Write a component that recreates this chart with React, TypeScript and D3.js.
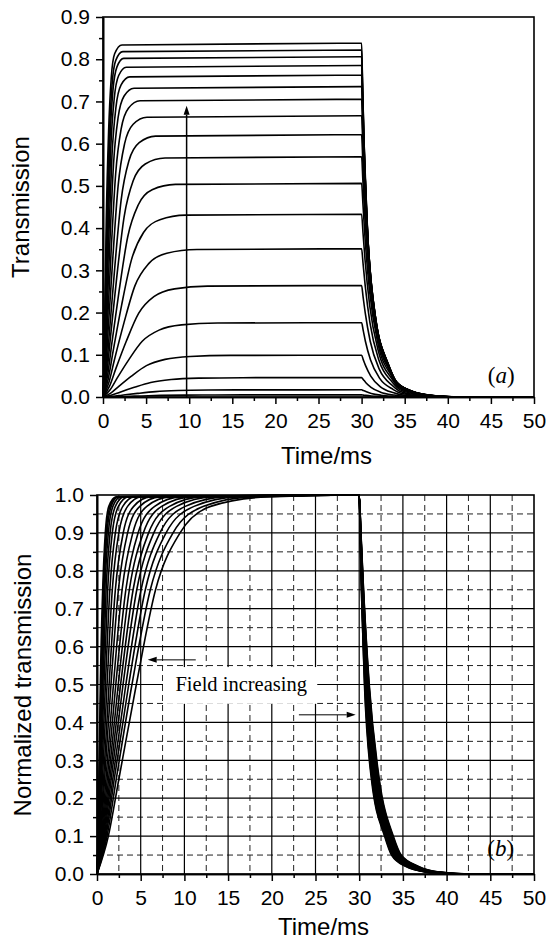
import React, { useEffect, useRef } from 'react';
import * as d3 from 'd3';

// plateau transmission of each curve in (a), highest field first
const plateaus = [0.838, 0.822, 0.806, 0.785, 0.762, 0.735, 0.705, 0.666, 0.621, 0.569, 0.506, 0.433, 0.351, 0.264, 0.176, 0.099, 0.046, 0.017, 0.005];

// normalized levels on the rising edge and the times (ms) each curve reaches them
const riseLevels = [0.1, 0.25, 0.5, 0.75, 0.9, 0.97, 0.995];
const riseTimes = [
  [0.12, 0.22, 0.38, 0.65, 0.95, 1.35, 2.2],
  [0.13, 0.25, 0.45, 0.72, 1.05, 1.48, 2.3],
  [0.15, 0.28, 0.51, 0.8, 1.15, 1.62, 2.4],
  [0.17, 0.32, 0.59, 0.9, 1.3, 1.82, 2.7],
  [0.19, 0.37, 0.68, 1.04, 1.5, 2.1, 3.1],
  [0.23, 0.44, 0.8, 1.22, 1.75, 2.45, 3.6],
  [0.27, 0.52, 0.96, 1.47, 2.1, 2.95, 4.3],
  [0.32, 0.62, 1.15, 1.75, 2.5, 3.5, 5.1],
  [0.39, 0.75, 1.38, 2.1, 3.0, 4.2, 6.1],
  [0.45, 0.87, 1.6, 2.45, 3.5, 4.9, 7.2],
  [0.53, 1.02, 1.88, 2.87, 4.1, 5.7, 8.4],
  [0.61, 1.17, 2.15, 3.3, 4.7, 6.6, 9.6],
  [0.69, 1.32, 2.43, 3.7, 5.3, 7.4, 10.9],
  [0.77, 1.47, 2.7, 4.13, 5.9, 8.3, 12.1],
  [0.85, 1.62, 2.98, 4.55, 6.5, 9.1, 13.3],
  [0.94, 1.8, 3.3, 5.04, 7.2, 10.1, 14.8],
  [1.03, 1.97, 3.63, 5.53, 7.9, 11.1, 16.2],
  [1.15, 2.2, 4.0, 6.1, 8.7, 12.2, 17.8],
  [1.3, 2.5, 4.5, 6.7, 9.5, 13.0, 19.5],
];

// field switched off at 30 ms: normalized levels on the falling edge and their times
const decayLevels = [0.9, 0.75, 0.5, 0.25, 0.1, 0.05, 0.02, 0.005, 0];
const decayTimes = [
  [30.1, 30.25, 30.6, 31.4, 32.9, 33.7, 35.3, 37.6, 40.5],
  [30.11, 30.26, 30.63, 31.45, 32.96, 33.76, 35.38, 37.69, 40.6],
  [30.11, 30.28, 30.66, 31.5, 33.01, 33.82, 35.47, 37.78, 40.8],
  [30.12, 30.29, 30.69, 31.55, 33.07, 33.88, 35.55, 37.87, 40.9],
  [30.12, 30.31, 30.72, 31.6, 33.12, 33.94, 35.63, 37.96, 41.1],
  [30.13, 30.32, 30.75, 31.65, 33.18, 34.01, 35.72, 38.04, 41.2],
  [30.13, 30.33, 30.78, 31.7, 33.23, 34.07, 35.8, 38.13, 41.3],
  [30.14, 30.35, 30.81, 31.75, 33.29, 34.13, 35.88, 38.22, 41.5],
  [30.14, 30.36, 30.84, 31.8, 33.34, 34.19, 35.97, 38.31, 41.6],
  [30.15, 30.38, 30.88, 31.85, 33.4, 34.25, 36.05, 38.4, 41.8],
  [30.16, 30.39, 30.91, 31.9, 33.46, 34.31, 36.13, 38.49, 41.9],
  [30.16, 30.4, 30.94, 31.95, 33.51, 34.37, 36.22, 38.58, 42.0],
  [30.17, 30.42, 30.97, 32.0, 33.57, 34.43, 36.3, 38.67, 42.2],
  [30.17, 30.43, 31.0, 32.05, 33.62, 34.49, 36.38, 38.76, 42.3],
  [30.18, 30.44, 31.03, 32.1, 33.68, 34.56, 36.47, 38.84, 42.4],
  [30.18, 30.46, 31.06, 32.15, 33.73, 34.62, 36.55, 38.93, 42.6],
  [30.19, 30.47, 31.09, 32.2, 33.79, 34.68, 36.63, 39.02, 42.7],
  [30.19, 30.49, 31.12, 32.25, 33.84, 34.74, 36.72, 39.11, 42.9],
  [30.2, 30.5, 31.15, 32.3, 33.9, 34.8, 36.8, 39.2, 43.0],
];

const xTicks = [0, 5, 10, 15, 20, 25, 30, 35, 40, 45, 50];
const xMinor = [2.5, 7.5, 12.5, 17.5, 22.5, 27.5, 32.5, 37.5, 42.5, 47.5];
const yTicksA = [0, 0.1, 0.2, 0.3, 0.4, 0.5, 0.6, 0.7, 0.8, 0.9];
const yMinorA = [0.05, 0.15, 0.25, 0.35, 0.45, 0.55, 0.65, 0.75, 0.85];
const yTicksB = [0, 0.1, 0.2, 0.3, 0.4, 0.5, 0.6, 0.7, 0.8, 0.9, 1.0];
const yMinorB = [0.05, 0.15, 0.25, 0.35, 0.45, 0.55, 0.65, 0.75, 0.85, 0.95];

const SANS = "'Liberation Sans', Arial, sans-serif";
const SERIF = "'Liberation Serif', 'Times New Roman', serif";

const normalized = (i: number): [number, number][] => {
  const pts: [number, number][] = [[0, 0]];
  riseTimes[i].forEach((t, k) => pts.push([t, riseLevels[k]]));
  pts.push([30, 1]);
  decayTimes[i].forEach((t, k) => pts.push([t, decayLevels[k]]));
  pts.push([50, 0]);
  return pts;
};

type Panel = {
  left: number; right: number; top: number; bottom: number;
  yMax: number; yTicks: number[]; yMinor: number[];
  grid: boolean; yTitle: string; titleY: number; yTitleX: number; xTitleY: number;
};

function drawPanel(svg: any, p: Panel, curves: [number, number][][]) {
  const x = d3.scaleLinear().domain([0, 50]).range([p.left, p.right]);
  const y = d3.scaleLinear().domain([0, p.yMax]).range([p.bottom, p.top]);
  const g = svg.append('g');

  if (p.grid) {
    const grid = g.append('g');
    grid.selectAll('line.vmin').data(xMinor).enter().append('line')
      .attr('x1', (d: number) => x(d)).attr('x2', (d: number) => x(d)).attr('y1', p.top).attr('y2', p.bottom)
      .attr('stroke', '#222').attr('stroke-width', 1).attr('stroke-dasharray', '6,4');
    grid.selectAll('line.hmin').data(p.yMinor).enter().append('line')
      .attr('y1', (d: number) => y(d)).attr('y2', (d: number) => y(d)).attr('x1', p.left).attr('x2', p.right)
      .attr('stroke', '#222').attr('stroke-width', 1).attr('stroke-dasharray', '6,4');
    grid.selectAll('line.vmaj').data(xTicks.slice(1, -1)).enter().append('line')
      .attr('x1', (d: number) => x(d)).attr('x2', (d: number) => x(d)).attr('y1', p.top).attr('y2', p.bottom)
      .attr('stroke', '#000').attr('stroke-width', 1.2);
    grid.selectAll('line.hmaj').data(p.yTicks.slice(1, -1)).enter().append('line')
      .attr('y1', (d: number) => y(d)).attr('y2', (d: number) => y(d)).attr('x1', p.left).attr('x2', p.right)
      .attr('stroke', '#000').attr('stroke-width', 1.2);
  }
  // layer for things that sit on the grid but under the curves
  const under = g.append('g');

  const line = d3.line<[number, number]>()
    .x((d) => x(d[0]))
    .y((d) => y(d[1]))
    .curve(d3.curveMonotoneX);

  g.append('g').selectAll('path').data(curves).enter().append('path')
    .attr('d', (d: [number, number][]) => line(d))
    .attr('fill', 'none').attr('stroke', '#000').attr('stroke-width', 1.6);

  // frame
  g.append('rect')
    .attr('x', p.left).attr('y', p.top)
    .attr('width', p.right - p.left).attr('height', p.bottom - p.top)
    .attr('fill', 'none').attr('stroke', '#000').attr('stroke-width', 1.6);

  // axes
  const xa = g.append('g').attr('transform', `translate(0,${p.bottom})`)
    .call(d3.axisBottom(x).tickValues(xTicks).tickSize(7).tickSizeOuter(0).tickPadding(9).tickFormat(d3.format('d')));
  const xm = g.append('g').attr('transform', `translate(0,${p.bottom})`)
    .call(d3.axisBottom(x).tickValues(xMinor).tickSize(4).tickSizeOuter(0).tickFormat(() => ''));
  const ya = g.append('g').attr('transform', `translate(${p.left},0)`)
    .call(d3.axisLeft(y).tickValues(p.yTicks).tickSize(7).tickSizeOuter(0).tickPadding(6).tickFormat(d3.format('.1f')));
  const ym = g.append('g').attr('transform', `translate(${p.left},0)`)
    .call(d3.axisLeft(y).tickValues(p.yMinor).tickSize(4).tickSizeOuter(0).tickFormat(() => ''));
  [xa, xm, ya, ym].forEach((a: any) => {
    a.select('.domain').attr('stroke-width', 1.6);
    a.selectAll('.tick line').attr('stroke-width', 1.5);
    a.selectAll('text').attr('font-family', SANS).attr('font-size', 21).attr('fill', '#000');
  });

  g.append('text')
    .attr('x', (p.left + p.right) / 2 + 8).attr('y', p.xTitleY)
    .attr('text-anchor', 'middle').attr('font-family', SANS).attr('font-size', 24)
    .text('Time/ms');
  g.append('text')
    .attr('transform', `translate(${p.yTitleX},${p.titleY}) rotate(-90)`)
    .attr('text-anchor', 'middle').attr('font-family', SANS).attr('font-size', 24)
    .text(p.yTitle);

  return { x, y, g, under };
}

function arrow(g: any, x1: number, y1: number, x2: number, y2: number, w: number) {
  const ang = Math.atan2(y2 - y1, x2 - x1);
  const len = 9, half = 3;
  const bx = x2 - len * Math.cos(ang), by = y2 - len * Math.sin(ang);
  g.append('line').attr('x1', x1).attr('y1', y1).attr('x2', bx).attr('y2', by)
    .attr('stroke', '#000').attr('stroke-width', w);
  const px = -Math.sin(ang) * half, py = Math.cos(ang) * half;
  g.append('path')
    .attr('d', `M${x2},${y2}L${bx + px},${by + py}L${bx - px},${by - py}Z`)
    .attr('fill', '#000');
}

function panelLabel(g: any, x: number, y: number, letter: string) {
  const t = g.append('text')
    .attr('x', x).attr('y', y).attr('dy', '0.35em')
    .attr('text-anchor', 'middle').attr('font-family', SERIF).attr('font-size', 23);
  t.append('tspan').text('(');
  t.append('tspan').attr('font-style', 'italic').text(letter);
  t.append('tspan').text(')');
}

export default function App() {
  const ref = useRef<SVGSVGElement>(null);

  useEffect(() => {
    if (!ref.current) return;
    const svg = d3.select(ref.current);
    svg.selectAll('*').remove();

    // (a) absolute transmission
    const curvesA = plateaus.map((h, i) => normalized(i).map(([t, v]) => [t, v * h] as [number, number]));
    const a = drawPanel(svg, {
      left: 103, right: 534, top: 17, bottom: 397,
      yMax: 0.9, yTicks: yTicksA, yMinor: yMinorA, grid: false,
      yTitle: 'Transmission', titleY: 207, yTitleX: 29, xTitleY: 464,
    }, curvesA);
    arrow(a.g, a.x(9.7), a.y(0), a.x(9.7), a.y(0.69), 1.5);
    panelLabel(a.g, a.x(46.2), a.y(0.052), 'a');

    // (b) normalized transmission
    const curvesB = plateaus.map((_, i) => normalized(i));
    const b = drawPanel(svg, {
      left: 97, right: 534, top: 495, bottom: 874,
      yMax: 1.0, yTicks: yTicksB, yMinor: yMinorB, grid: true,
      yTitle: 'Normalized transmission', titleY: 685, yTitleX: 31, xTitleY: 935,
    }, curvesB);
    b.under.append('rect')
      .attr('x', b.x(7.55)).attr('y', b.y(0.546))
      .attr('width', b.x(25.2) - b.x(7.55)).attr('height', b.y(0.449) - b.y(0.546))
      .attr('fill', '#fff');
    b.under.append('text')
      .attr('x', b.x(16.5)).attr('y', b.y(0.5)).attr('dy', '0.33em')
      .attr('text-anchor', 'middle').attr('font-family', SERIF).attr('font-size', 20.5)
      .text('Field increasing');
    arrow(b.g, b.x(11.3), b.y(0.565), b.x(5.8), b.y(0.565), 1);
    arrow(b.g, b.x(23.1), b.y(0.42), b.x(29.6), b.y(0.42), 1);
    panelLabel(b.g, b.x(46.2), b.y(0.069), 'b');
  }, []);

  return (
    <svg
      ref={ref}
      width={548}
      height={941}
      style={{ position: 'absolute', left: 0, top: 0, background: '#fff' }}
    />
  );
}
